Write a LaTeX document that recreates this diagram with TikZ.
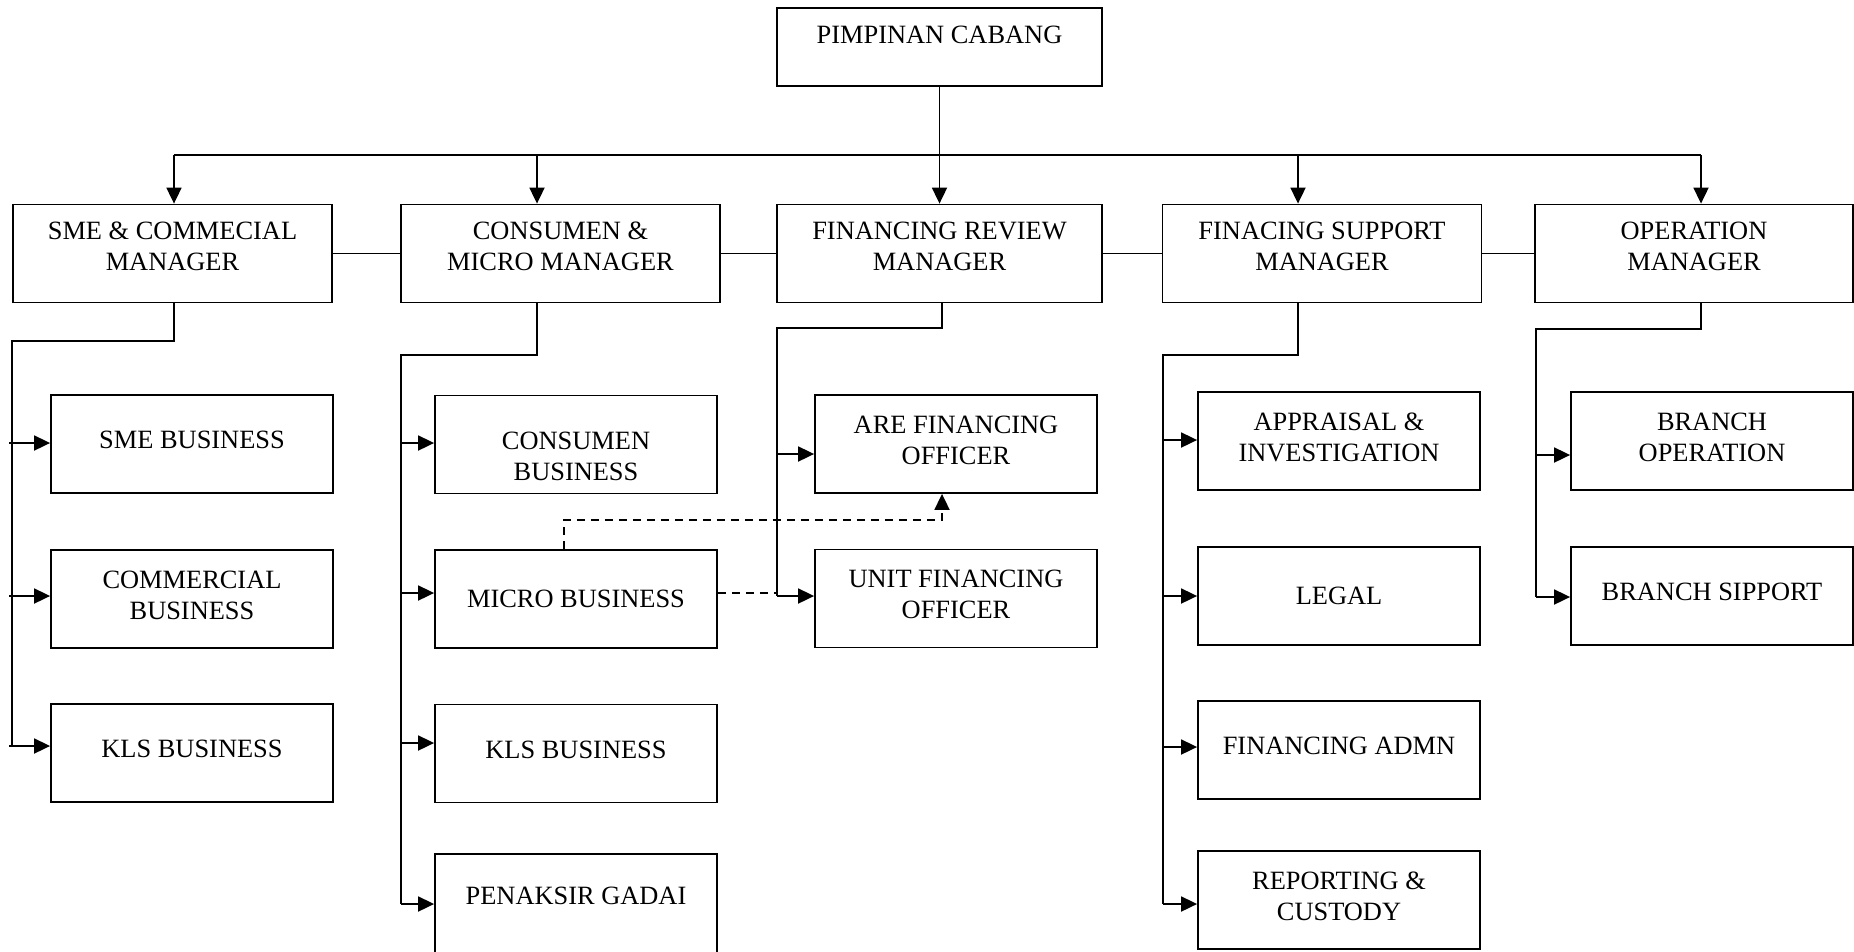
\documentclass[tikz,border=0pt]{standalone}
\usepackage{fontspec}
\setmainfont{Liberation Serif}
\usetikzlibrary{arrows.meta}
\tikzset{
    box/.style = {draw, line width = 1.8pt, minimum width = 282pt, minimum height = 98pt,
        inner sep = 0pt, align = center, font = \fontsize{26.4}{31}\selectfont, text depth = 8pt},
    mgr/.style = {box, minimum width = 319pt, text depth = 14pt},
    lnk/.style = {line width = 1.8pt},
    arr/.style = {line width = 1.8pt, -{Triangle[length = 16pt, width = 15pt]}},
    dsh/.style = {line width = 1.8pt, dash pattern = on 8pt off 6pt}
}

\begin{document}
\begin{tikzpicture}[x = 1pt, y = -1pt]
            \useasboundingbox (0, 0) rectangle (1854, 951);
            %顶层
            \node[box, minimum width = 325pt, minimum height = 78pt, text depth = 24pt] (pc) at (939.5, 47) {PIMPINAN CABANG};
            %部门经理
            \node[mgr] (sme) at (172.5, 253.5) {SME \& COMMECIAL\\MANAGER};
            \node[mgr] (kons) at (560.5, 253.5) {CONSUMEN \&\\MICRO MANAGER};
            \node[mgr, minimum width = 325pt] (frm) at (939.5, 253.5) {FINANCING REVIEW\\MANAGER};
            \node[mgr] (fsm) at (1322, 253.5) {FINACING SUPPORT\\MANAGER};
            \node[mgr, minimum width = 318pt] (opm) at (1694, 253.5) {OPERATION\\MANAGER};
            %下属部门
            \node[box] (smeb) at (192, 444) {SME BUSINESS};
            \node[box] (comb) at (192, 599) {COMMERCIAL\\BUSINESS};
            \node[box] (kls1) at (192, 753) {KLS BUSINESS};
            \node[box, text depth = 0pt, text height = 72pt] (konb) at (576, 444.5) {CONSUMEN\\BUSINESS};
            \node[box, text depth = 0pt] (mikb) at (576, 599) {MICRO BUSINESS};
            \node[box] (kls2) at (576, 753.5) {KLS BUSINESS};
            \node[box, minimum height = 104pt, text depth = 20pt] (gadai) at (576, 906) {PENAKSIR GADAI};
            \node[box] (aro) at (956, 444) {ARE FINANCING\\OFFICER};
            \node[box] (ufo) at (956, 598.5) {UNIT FINANCING\\OFFICER};
            \node[box] (apr) at (1339, 441) {APPRAISAL \&\\INVESTIGATION};
            \node[box, text depth = 0pt] (legal) at (1339, 596) {LEGAL};
            \node[box] (fadm) at (1339, 750) {FINANCING ADMN};
            \node[box] (rep) at (1339, 900) {REPORTING \&\\CUSTODY};
            \node[box] (bop) at (1712, 441) {BRANCH\\OPERATION};
            \node[box] (bsp) at (1712, 596) {BRANCH SIPPORT};
            %总线
            \draw[arr] (pc.south) -- (frm.north);
            \draw[lnk] (174, 155) -- (1701, 155);
            \foreach \x/\n in {174/sme, 537/kons, 1298/fsm, 1701/opm}
                \draw[arr] (\x, 155) -- (\n.north -| \x, 0);
            \foreach \a/\b in {sme/kons, kons/frm, frm/fsm, fsm/opm}
                \draw[lnk] (\a.east) -- (\b.west);
            %各列竖线
            \draw[lnk] (sme.south -| 174, 0) |- (12, 341) -- (12, 746);
            \foreach \n/\y in {smeb/443, comb/596, kls1/746}
                \draw[arr] (9, \y) -- (\n.west |- 0, \y);
            \draw[lnk] (kons.south -| 537, 0) |- (401, 355) -- (401, 904);
            \foreach \n/\y in {konb/443, mikb/593, kls2/743, gadai/904}
                \draw[arr] (401, \y) -- (\n.west |- 0, \y);
            \draw[lnk] (frm.south -| 942, 0) |- (777, 328) -- (777, 596);
            \foreach \n/\y in {aro/454, ufo/596}
                \draw[arr] (777, \y) -- (\n.west |- 0, \y);
            \draw[lnk] (fsm.south -| 1298, 0) |- (1163, 355) -- (1163, 904);
            \foreach \n/\y in {apr/440, legal/596, fadm/747, rep/904}
                \draw[arr] (1163, \y) -- (\n.west |- 0, \y);
            \draw[lnk] (opm.south -| 1701, 0) |- (1536, 329) -- (1536, 597);
            \foreach \n/\y in {bop/455, bsp/597}
                \draw[arr] (1536, \y) -- (\n.west |- 0, \y);
            %虚线
            \draw[dsh, -{Triangle[length = 16pt, width = 15pt]}] (mikb.north -| 564, 0) |- (942, 520) -- (aro.south -| 942, 0);
            \draw[dsh] (mikb.east |- 0, 593) -- (777, 593);
        \end{tikzpicture}
\end{document}
